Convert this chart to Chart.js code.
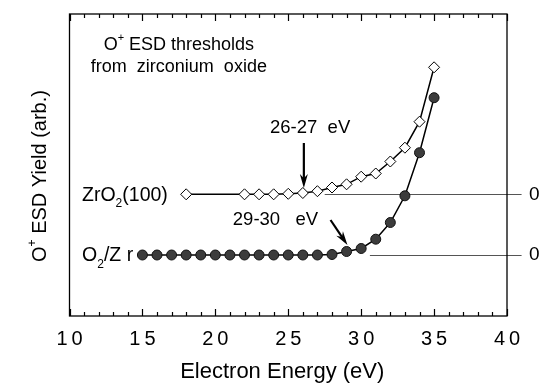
<!DOCTYPE html>
<html>
<head>
<meta charset="utf-8">
<script src="https://cdn.jsdelivr.net/npm/chart.js@4/dist/chart.umd.min.js"></script>
<style>
  html, body { margin: 0; padding: 0; background: #fff; }
  #wrap { width: 542px; height: 385px; }
</style>
</head>
<body>
<div id="wrap"><canvas id="esd-chart"></canvas></div>
<script>
// O+ ESD yield vs electron energy, two samples (values in arb. units above each own zero)
const zrEnergy = [18, 22, 23, 24, 25, 26, 27, 28, 29, 30, 31, 32, 33, 34, 35];
const zrYield  = [0, 0, 0, 0, 0.05, 0.13, 0.31, 0.68, 1.0, 1.76, 2.08, 3.28, 4.66, 7.26, 12.7];

const o2Energy = [15, 16, 17, 18, 19, 20, 21, 22, 23, 24, 25, 26, 27, 28, 29, 30, 31, 32, 33, 34, 35];
const o2Yield  = [0, 0, 0, 0, 0, 0, 0, 0, 0, 0, 0, 0, 0, 0.05, 0.35, 0.65, 1.58, 3.25, 5.92, 10.23, 15.73];

// vertical offset of the ZrO2(100) curve (its own zero)
const zrOffset = 6.07;

const xTicks = [10, 15, 20, 25, 30, 35, 40];
const FONT = '"Liberation Sans", Arial, Helvetica, sans-serif';

function toPoints(xs, ys, off) {
    return xs.map((x, i) => ({ x: x, y: ys[i] + off }));
}

// draw text with sub/superscript pieces: parts = [[text, 'sup'|'sub'|''], ...]
function drawRich(ctx, parts, x, y, size, align) {
    const small = Math.round(size * 0.62);
    let total = 0;
    parts.forEach(p => {
        ctx.font = (p[1] ? small : size) + 'px ' + FONT;
        total += ctx.measureText(p[0]).width;
    });
    let cx = align === 'center' ? x - total / 2 : x;
    ctx.textAlign = 'left';
    ctx.textBaseline = 'middle';
    parts.forEach(p => {
        ctx.font = (p[1] ? small : size) + 'px ' + FONT;
        let dy = 0;
        if (p[1] === 'sup') dy = -size * 0.38;
        if (p[1] === 'sub') dy = size * 0.42;
        ctx.fillText(p[0], cx, y + dy);
        cx += ctx.measureText(p[0]).width;
    });
}

function arrow(ctx, x1, y1, x2, y2) {
    const ang = Math.atan2(y2 - y1, x2 - x1);
    const len = 14, half = 4;
    ctx.beginPath();
    ctx.moveTo(x1, y1);
    ctx.lineTo(x2 - Math.cos(ang) * len * 0.6, y2 - Math.sin(ang) * len * 0.6);
    ctx.lineWidth = 2.2;
    ctx.stroke();
    ctx.beginPath();
    ctx.moveTo(x2, y2);
    ctx.lineTo(x2 - Math.cos(ang) * len - Math.sin(ang) * half, y2 - Math.sin(ang) * len + Math.cos(ang) * half);
    ctx.lineTo(x2 - Math.cos(ang) * len * 0.7, y2 - Math.sin(ang) * len * 0.7);
    ctx.lineTo(x2 - Math.cos(ang) * len + Math.sin(ang) * half, y2 - Math.sin(ang) * len - Math.cos(ang) * half);
    ctx.closePath();
    ctx.fill();
}

const framePlugin = {
    id: 'frame',
    beforeDatasetsDraw(chart) {
        const ctx = chart.ctx, xs = chart.scales.x, ys = chart.scales.y;
        ctx.save();
        // zero reference lines (extend past the right border)
        ctx.strokeStyle = '#555';
        ctx.lineWidth = 1;
        [[27.5, 41.0, zrOffset], [30.6, 41.0, 0]].forEach(l => {
            const py = Math.round(ys.getPixelForValue(l[2])) + 0.5;
            ctx.beginPath();
            ctx.moveTo(xs.getPixelForValue(l[0]), py);
            ctx.lineTo(xs.getPixelForValue(l[1]), py);
            ctx.stroke();
        });
        ctx.restore();
    },
    afterDraw(chart) {
        const ctx = chart.ctx, a = chart.chartArea, xs = chart.scales.x, ys = chart.scales.y;
        const px = v => xs.getPixelForValue(v), py = v => ys.getPixelForValue(v);
        ctx.save();
        ctx.strokeStyle = '#000';
        ctx.fillStyle = '#000';
        ctx.lineWidth = 1.3;
        ctx.strokeRect(a.left, a.top, a.right - a.left, a.bottom - a.top);

        // inward ticks top and bottom, minor every 1 eV
        ctx.lineWidth = 1.2;
        for (let v = xs.min; v <= xs.max; v++) {
            const x = Math.round(px(v)) + 0.5;
            const len = v % 5 === 0 ? 7 : 4;
            ctx.beginPath();
            ctx.moveTo(x, a.bottom); ctx.lineTo(x, a.bottom - len);
            ctx.moveTo(x, a.top); ctx.lineTo(x, a.top + len);
            ctx.stroke();
        }

        // axis titles
        drawRich(ctx, [['Electron Energy (eV)', '']], (a.left + a.right) / 2 - 6, a.bottom + 56, 22, 'center');
        ctx.save();
        ctx.translate(40, (a.top + a.bottom) / 2 + 11);
        ctx.rotate(-Math.PI / 2);
        drawRich(ctx, [['O', ''], ['+', 'sup'], [' ESD Yield (arb.)', '']], 0, 0, 20, 'center');
        ctx.restore();

        // annotations
        drawRich(ctx, [['O', ''], ['+', 'sup'], [' ESD thresholds', '']], px(17.5), py(21.0), 18, 'center');
        drawRich(ctx, [['from  zirconium  oxide', '']], px(17.5), py(18.8), 18, 'center');
        drawRich(ctx, [['26-27  eV', '']], px(26.5), py(12.7), 18.5, 'center');
        drawRich(ctx, [['29-30   eV', '']], px(21.2), py(3.5), 18.5, 'left');
        drawRich(ctx, [['ZrO', ''], ['2', 'sub'], ['(100)', '']], px(10.86), py(zrOffset) + 1, 19.5, 'left');
        drawRich(ctx, [['O', ''], ['2', 'sub'], ['/Z r', '']], px(10.86), py(0) + 1, 19.5, 'left');
        drawRich(ctx, [['0', '']], px(41.5), py(zrOffset), 19, 'left');
        drawRich(ctx, [['0', '']], px(41.5), py(0), 19, 'left');

        arrow(ctx, px(26.07), py(11.2), px(26.07), py(6.7));
        arrow(ctx, px(27.9), py(3.5), px(29.06), py(1.0));
        ctx.restore();
    }
};

const ctx = document.getElementById('esd-chart').getContext('2d');
new Chart(ctx, {
    type: 'scatter',
    data: {
        datasets: [
            {
                label: 'ZrO2(100)',
                data: toPoints(zrEnergy, zrYield, zrOffset),
                showLine: true,
                borderColor: '#000',
                borderWidth: 1.5,
                pointStyle: 'rectRot',
                pointRadius: 5.5,
                pointBackgroundColor: '#fff',
                pointBorderColor: '#000',
                pointBorderWidth: 1
            },
            {
                label: 'O2/Zr',
                data: toPoints(o2Energy, o2Yield, 0),
                showLine: true,
                borderColor: '#000',
                borderWidth: 1.5,
                pointStyle: 'circle',
                pointRadius: 5,
                pointBackgroundColor: '#3c3c3c',
                pointBorderColor: '#111',
                pointBorderWidth: 1
            }
        ]
    },
    options: {
        responsive: true,
        maintainAspectRatio: false,
        animation: false,
        layout: { padding: { top: 14, right: 35, left: 0, bottom: 0 } },
        plugins: { legend: { display: false }, tooltip: { enabled: false } },
        scales: {
            x: {
                type: 'linear',
                min: 10,
                max: 40,
                grid: { display: false, drawTicks: false },
                border: { display: false },
                afterBuildTicks: s => { s.ticks = xTicks.map(v => ({ value: v })); },
                ticks: {
                    color: '#000',
                    padding: 11,
                    maxRotation: 0,
                    font: { size: 20, family: FONT },
                    callback: v => String(v).split('').join('\u2009')
                },
                title: { display: false },
                afterFit: s => { s.height = 69; }
            },
            y: {
                min: -6.1,
                max: 24.1,
                grid: { display: false, drawTicks: false },
                border: { display: false },
                ticks: { display: false },
                title: { display: false },
                afterFit: s => { s.width = 69.5; }
            }
        }
    },
    plugins: [framePlugin]
});
</script>
</body>
</html>
